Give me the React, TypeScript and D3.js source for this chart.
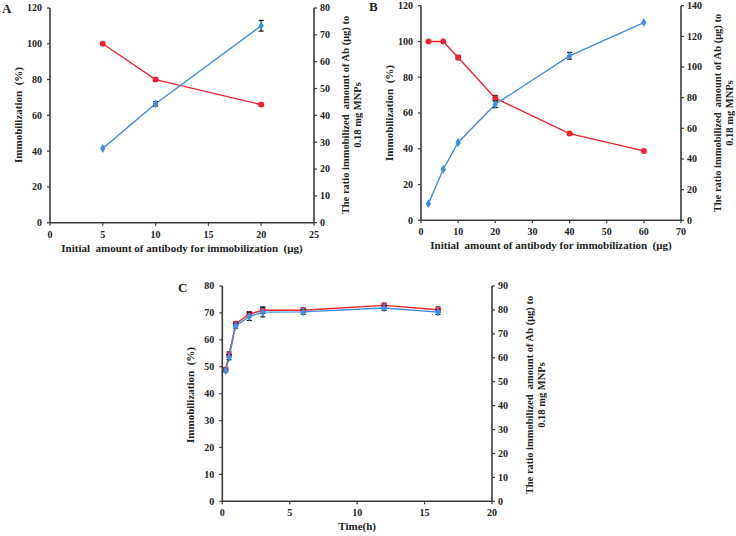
import React from "react";
import * as d3 from "d3";

// ---- Panel A data ----
const A_X = [5, 10, 20];
const A_IMMOB = [100, 80, 66];
const A_IMMOB_ERR = [0, 1, 0.8];
const A_RATIO = [27.7, 44.3, 73.4];
const A_RATIO_ERR = [0, 0.8, 2];
const A_XTICKS = [0, 5, 10, 15, 20, 25];
const A_LTICKS = [0, 20, 40, 60, 80, 100, 120];
const A_RTICKS = [0, 10, 20, 30, 40, 50, 60, 70, 80];

// ---- Panel B data ----
const B_X = [2, 6, 10, 20, 40, 60];
const B_IMMOB = [100, 100, 91, 68.3, 48.5, 38.8];
const B_IMMOB_ERR = [0, 0, 1.2, 1.5, 0.8, 0];
const B_RATIO = [10.8, 33.3, 50.8, 75.7, 107.3, 129];
const B_RATIO_ERR = [0, 0, 0, 2.2, 2.2, 0];
const B_XTICKS = [0, 10, 20, 30, 40, 50, 60, 70];
const B_LTICKS = [0, 20, 40, 60, 80, 100, 120];
const B_RTICKS = [0, 20, 40, 60, 80, 100, 120, 140];

// ---- Panel C data ----
const C_X = [0.25, 0.5, 1, 2, 3, 6, 12, 16];
const C_IMMOB = [49, 54.5, 66, 69.5, 71, 71, 72.8, 71.2];
const C_IMMOB_ERR = [0.5, 1, 0.8, 1, 1.2, 0.8, 0.8, 1];
const C_RATIO = [54.6, 60.2, 73.4, 77.2, 79.1, 79.2, 80.8, 79.1];
const C_RATIO_ERR = [0.5, 1, 1, 1.6, 2, 1, 1, 1];
const C_XTICKS = [0, 5, 10, 15, 20];
const C_LTICKS = [0, 10, 20, 30, 40, 50, 60, 70, 80];
const C_RTICKS = [0, 10, 20, 30, 40, 50, 60, 70, 80, 90];

const X_TITLE = "Initial  amount of antibody for immobilization  (\u03bcg)";
const L_TITLE = "Immobilization  (%)";
const R_TITLE1 = "The ratio immobilized  amount of Ab (\u03bcg) to";
const R_TITLE2 = "0.18 mg MNPs";

const RED = "#f5222e";
const BLUE = "#3d8fe6";
const AXIS = "#3a3a3a";
const FONT = "'Liberation Serif', 'Times New Roman', serif";

type PanelProps = {
  label: string;
  x0: number; x1: number; y0: number; y1: number;
  xDomain: [number, number]; lDomain: [number, number]; rDomain: [number, number];
  xTicks: number[]; lTicks: number[]; rTicks: number[];
  xs: number[];
  immob: number[]; immobErr: number[];
  ratio: number[]; ratioErr: number[];
  xTitle: string;
  labelPos: [number, number];
  lTitleX: number; rTitleX: number; titleCy: number;
};

function Panel(p: PanelProps) {
  const x = d3.scaleLinear().domain(p.xDomain).range([p.x0, p.x1]);
  const yl = d3.scaleLinear().domain(p.lDomain).range([p.y1, p.y0]);
  const yr = d3.scaleLinear().domain(p.rDomain).range([p.y1, p.y0]);
  const lineL = d3.line<number>().x((_, i) => x(p.xs[i])).y((v) => yl(v));
  const lineR = d3.line<number>().x((_, i) => x(p.xs[i])).y((v) => yr(v));
  const diamond = d3.symbol().type(d3.symbolDiamond).size(24)() as string;
  const circ = d3.symbol().type(d3.symbolCircle).size(28)() as string;

  const errBars = (vals: number[], errs: number[], ys: d3.ScaleLinear<number, number>) =>
    vals.map((v, i) =>
      errs[i] > 0 ? (
        <g key={i} stroke="#111" strokeWidth={1.2}>
          <line x1={x(p.xs[i])} x2={x(p.xs[i])} y1={ys(v - errs[i])} y2={ys(v + errs[i])} />
          <line x1={x(p.xs[i]) - 2.5} x2={x(p.xs[i]) + 2.5} y1={ys(v - errs[i])} y2={ys(v - errs[i])} />
          <line x1={x(p.xs[i]) - 2.5} x2={x(p.xs[i]) + 2.5} y1={ys(v + errs[i])} y2={ys(v + errs[i])} />
        </g>
      ) : null
    );

  return (
    <g fontFamily={FONT} fontWeight="bold" fill="#222" style={{ whiteSpace: "pre" }}>
      <text x={p.labelPos[0]} y={p.labelPos[1]} fontSize={13}>{p.label}</text>
      <g stroke={AXIS} strokeWidth={1.6}>
        <line x1={p.x0} x2={p.x0} y1={p.y0} y2={p.y1} />
        <line x1={p.x1} x2={p.x1} y1={p.y0} y2={p.y1} />
        <line x1={p.x0} x2={p.x1} y1={p.y1} y2={p.y1} />
      </g>
      {p.lTicks.map((t) => (
        <g key={"l" + t}>
          <line x1={p.x0 - 3} x2={p.x0} y1={yl(t)} y2={yl(t)} stroke={AXIS} strokeWidth={1.2} />
          <text x={p.x0 - 8} y={yl(t)} dy="0.34em" textAnchor="end" fontSize={10}>{t}</text>
        </g>
      ))}
      {p.rTicks.map((t) => (
        <g key={"r" + t}>
          <line x1={p.x1} x2={p.x1 + 3} y1={yr(t)} y2={yr(t)} stroke={AXIS} strokeWidth={1.2} />
          <text x={p.x1 + 6} y={yr(t)} dy="0.34em" textAnchor="start" fontSize={10}>{t}</text>
        </g>
      ))}
      {p.xTicks.map((t) => (
        <g key={"x" + t}>
          <line x1={x(t)} x2={x(t)} y1={p.y1} y2={p.y1 + 3} stroke={AXIS} strokeWidth={1.2} />
          <text x={x(t)} y={p.y1 + 15} textAnchor="middle" fontSize={10}>{t}</text>
        </g>
      ))}
      <text xmlSpace="preserve" x={(p.x0 + p.x1) / 2} y={p.y1 + 29} textAnchor="middle" fontSize={11}>{p.xTitle}</text>
      <text xmlSpace="preserve" transform={`translate(${p.lTitleX},${p.titleCy}) rotate(-90)`} textAnchor="middle" dominantBaseline="central" fontSize={11}>{L_TITLE}</text>
      <text xmlSpace="preserve" transform={`translate(${p.rTitleX},${p.titleCy}) rotate(-90)`} textAnchor="middle" dominantBaseline="central" fontSize={10.5}>{R_TITLE1}</text>
      <text xmlSpace="preserve" transform={`translate(${p.rTitleX + 12},${p.titleCy}) rotate(-90)`} textAnchor="middle" dominantBaseline="central" fontSize={10.5}>{R_TITLE2}</text>
      <path d={lineL(p.immob) as string} fill="none" stroke={RED} strokeWidth={1.4} />
      {errBars(p.immob, p.immobErr, yl)}
      {p.immob.map((v, i) => (
        <path key={"rm" + i} d={circ} transform={`translate(${x(p.xs[i])},${yl(v)})`} fill={RED} />
      ))}
      <path d={lineR(p.ratio) as string} fill="none" stroke={BLUE} strokeWidth={1.4} />
      {errBars(p.ratio, p.ratioErr, yr)}
      {p.ratio.map((v, i) => (
        <path key={"bm" + i} d={diamond} transform={`translate(${x(p.xs[i])},${yr(v)})`} fill={BLUE} />
      ))}
    </g>
  );
}

export default function App() {
  return (
    <svg width={736} height={536} style={{ position: "absolute", left: 0, top: 0, background: "#fff" }}>
      <rect width={736} height={536} fill="#fff" />
      <Panel
        label="A" labelPos={[2, 13]}
        x0={50} x1={314} y0={8} y1={222.7}
        xDomain={[0, 25]} lDomain={[0, 120]} rDomain={[0, 80]}
        xTicks={A_XTICKS} lTicks={A_LTICKS} rTicks={A_RTICKS}
        xs={A_X} immob={A_IMMOB} immobErr={A_IMMOB_ERR} ratio={A_RATIO} ratioErr={A_RATIO_ERR}
        xTitle={X_TITLE} lTitleX={18} rTitleX={345} titleCy={115}
      />
      <Panel
        label="B" labelPos={[369, 11]}
        x0={421} x1={681} y0={5.7} y1={220.3}
        xDomain={[0, 70]} lDomain={[0, 120]} rDomain={[0, 140]}
        xTicks={B_XTICKS} lTicks={B_LTICKS} rTicks={B_RTICKS}
        xs={B_X} immob={B_IMMOB} immobErr={B_IMMOB_ERR} ratio={B_RATIO} ratioErr={B_RATIO_ERR}
        xTitle={X_TITLE} lTitleX={389} rTitleX={717} titleCy={113}
      />
      <Panel
        label="C" labelPos={[178, 292]}
        x0={222.3} x1={492} y0={286} y1={501.3}
        xDomain={[0, 20]} lDomain={[0, 80]} rDomain={[0, 90]}
        xTicks={C_XTICKS} lTicks={C_LTICKS} rTicks={C_RTICKS}
        xs={C_X} immob={C_IMMOB} immobErr={C_IMMOB_ERR} ratio={C_RATIO} ratioErr={C_RATIO_ERR}
        xTitle="Time(h)" lTitleX={190} rTitleX={529} titleCy={395}
      />
    </svg>
  );
}
